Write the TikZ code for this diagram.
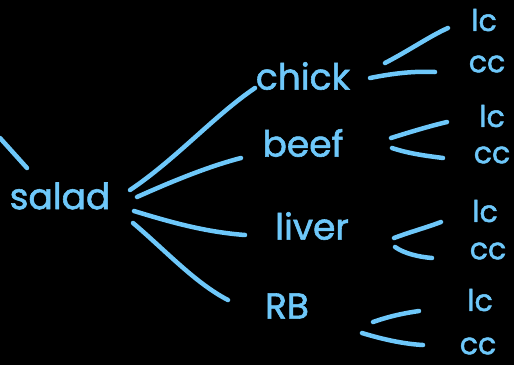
\documentclass[tikz,border=0pt]{standalone}
\usepackage{fontspec}
\setmainfont{Poppins}[FakeBold=1.6]
\definecolor{ink}{RGB}{110,200,250}
\tikzset{
  stroke/.style={draw=ink, line width=4.5pt, line cap=round},
  word/.style={text=ink, font=\fontsize{36}{40}\selectfont, inner sep=0pt},
  leaf/.style={text=ink, font=\fontsize{30}{34}\selectfont, inner sep=0pt},
}
\begin{document}
\begin{tikzpicture}[x=1pt,y=-1pt]
  \fill[black] (0,0) rectangle (514,365);
  \useasboundingbox (0,0) rectangle (514,365);

  % root and first level
  \node[word] (salad) at (60,196) {salad};
  \node[word] (chick) at (303,76) {chick};
  \node[word] (beef)  at (303,143) {beef};
  \node[word] (liver) at (312,226) {liver};
  \node[word] (rb)    at (287,306) {RB};

  % second level
  \node[leaf] (c1) at (484,20)  {lc};
  \node[leaf] (c2) at (487,64)  {cc};
  \node[leaf] (b1) at (492,116) {lc};
  \node[leaf] (b2) at (492,155) {cc};
  \node[leaf] (l1) at (485,211) {lc};
  \node[leaf] (l2) at (488,251) {cc};
  \node[leaf] (r1) at (480,300) {lc};
  \node[leaf] (r2) at (478,346) {cc};

  % stroke end points
  \coordinate (in)  at (0,138);
  \coordinate (inE) at (27,168);
  \coordinate (s1) at (130,190);  \coordinate (e1) at (255,88);
  \coordinate (s2) at (137,197);  \coordinate (e2) at (241,158);
  \coordinate (s3) at (134,211);  \coordinate (e3) at (245,235);
  \coordinate (s4) at (133,223);  \coordinate (e4) at (228,300);

  \coordinate (cu0) at (385,63);  \coordinate (cu1) at (448,28);
  \coordinate (cl0) at (370,78);  \coordinate (cl1) at (435,72);
  \coordinate (bu0) at (391,138); \coordinate (bu1) at (447,122);
  \coordinate (bl0) at (392,148); \coordinate (bl1) at (443,158);
  \coordinate (lu0) at (394,238); \coordinate (lu1) at (441,222);
  \coordinate (ll0) at (395,247); \coordinate (ll1) at (432,258);
  \coordinate (ru0) at (373,322); \coordinate (ru1) at (419,311);
  \coordinate (rl0) at (362,333); \coordinate (rl1) at (423,345);

  % incoming stroke to the root
  \draw[stroke] (in) -- (inE);

  % root branches
  \draw[stroke] (s1) .. controls (175,160) and (215,115) .. (e1);
  \draw[stroke] (s2) .. controls (175,180) and (210,166) .. (e2);
  \draw[stroke] (s3) .. controls (170,222) and (205,232) .. (e3);
  \draw[stroke] (s4) .. controls (165,250) and (195,283) .. (e4);

  % splits into lc / cc
  \draw[stroke] (cu0) .. controls (410,50) and (430,36) .. (cu1);
  \draw[stroke] (cl0) .. controls (395,73) and (415,71) .. (cl1);
  \draw[stroke] (bu0) .. controls (410,132) and (430,126) .. (bu1);
  \draw[stroke] (bl0) .. controls (410,154) and (428,156) .. (bl1);
  \draw[stroke] (lu0) .. controls (410,232) and (428,227) .. (lu1);
  \draw[stroke] (ll0) .. controls (405,254) and (420,257) .. (ll1);
  \draw[stroke] (ru0) .. controls (390,316) and (405,313) .. (ru1);
  \draw[stroke] (rl0) .. controls (385,340) and (405,344) .. (rl1);
\end{tikzpicture}
\end{document}
